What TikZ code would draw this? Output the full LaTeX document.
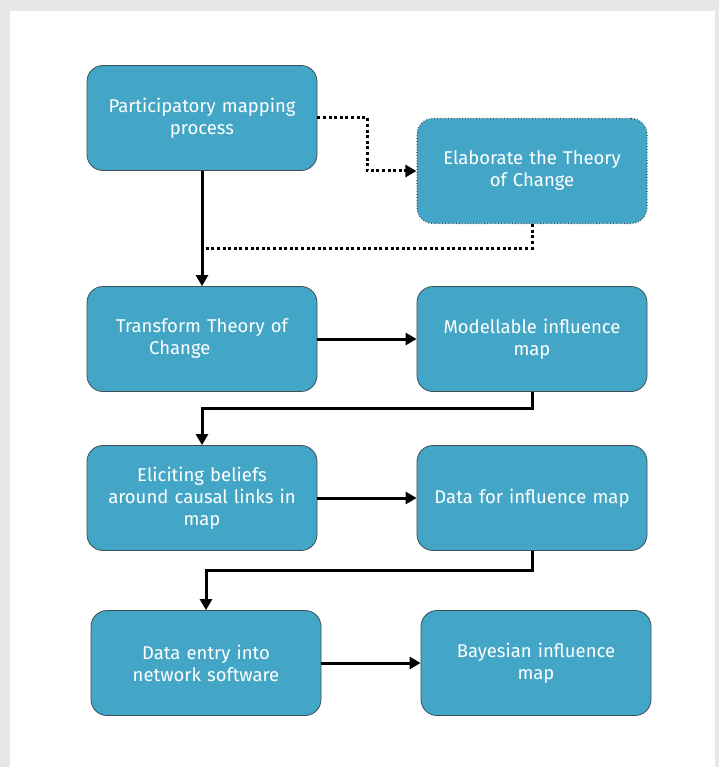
\documentclass[tikz,border=0pt]{standalone}
\usepackage{fontspec}
\setmainfont{Fira Sans}
\usetikzlibrary{positioning,arrows.meta,calc}
\definecolor{stagefill}{HTML}{44A6C6}
\definecolor{stageline}{HTML}{3D4F57}
\definecolor{pagegray}{HTML}{E6E8E7}

\begin{document}
\begin{tikzpicture}[->,x=1pt,y=-1pt,on grid,line width=3pt,
      >={Triangle[length=11pt,width=12pt]},
      stage/.style={draw=stageline,line width=0.8pt,fill=stagefill,rounded corners=16pt,
        minimum width=230pt,minimum height=105pt,text width=222pt,align=center,
        text=white,font=\fontsize{18.5}{22}\selectfont},
      draft/.style={stage,dotted,line width=1.2pt},
      dots/.style={dash pattern=on 3pt off 2.6pt}]
			\fill[pagegray] (0,0) rectangle (719,767);
			\fill[white] (10,11) rectangle (715,767);
			\node[stage] (pmp) at (202,118) {Participatory mapping\\process};
			\node[draft] (elab) [right=330pt of pmp,yshift=-53pt] {Elaborate the Theory\\of Change};
			\node[stage] (transform) [below=221pt of pmp] {Transform Theory of\\Change\hspace*{2.4em}};
			\node[stage] (modmap) [right=330pt of transform] {Modellable influence\\map};
			\node[stage] (elicit) [below=159pt of transform] {Eliciting beliefs\\around causal links in\\map};
			\node[stage] (datamap) [right=330pt of elicit] {Data for influence map};
			\node[stage] (entry) [below=165pt of elicit,xshift=4pt] {Data entry into\\network software};
			\node[stage] (bayes) [right=330pt of entry] {Bayesian influence\\map};
			\coordinate (join) at ($(pmp.south)!0.67!(transform.north)$);
			% dotted side branch
			\draw[dots] (pmp.east) -- ++(50,0) |- (elab.west);
			\draw[dots,-] (elab.south) |- (join);
			% main flow
			\draw (pmp.south) -- (transform.north);
			\draw (transform) -- (modmap);
			\draw (modmap.south) -- ++(0,17) -| (elicit.north);
			\draw (elicit) -- (datamap);
			\draw (datamap.south) -- ++(0,20) -| (entry.north);
			\draw (entry) -- (bayes);
		\end{tikzpicture}
\end{document}
